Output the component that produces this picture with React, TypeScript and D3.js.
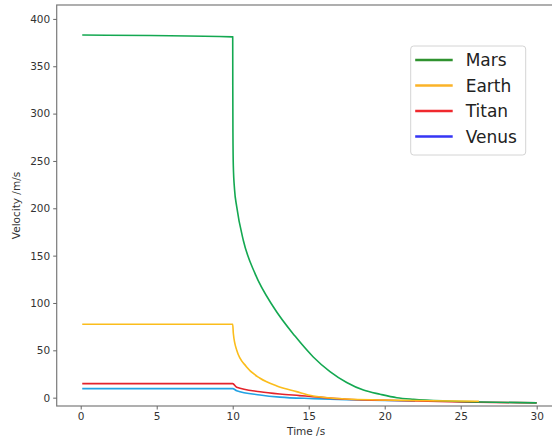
import { useEffect, useRef } from "react";
import * as d3 from "d3";

type Pt = [number, number];

// [time s, velocity m/s]
const marsData: Pt[] = [
  [0.1, 383], [10, 381], [10.005, 330], [10.015, 280], [10.04, 245], [10.12, 220],
  [10.26, 202], [10.7, 166], [11.47, 131], [12.67, 96], [14.1, 65], [15.3, 43],
  [16.4, 27.5], [17.5, 16], [18.6, 8], [19.7, 3.6], [20.8, 0], [21.9, -1.7],
  [24.1, -3.5], [26.3, -4.5], [30, -5.5],
];
const earthData: Pt[] = [
  [0.1, 77.5], [10, 77.5], [10.04, 68], [10.26, 50.4], [10.9, 32.7], [11.8, 20.5],
  [12.9, 12.4], [14.2, 6.4], [15.3, 1.8], [17.5, -1.4], [19.7, -2.4], [23, -3.2], [26.2, -3.8],
];
const titanData: Pt[] = [
  [0.1, 14.8], [10, 14.8], [10.26, 11], [11.8, 6.3], [13.1, 3.9], [14.4, 2.2],
  [15.3, 1], [17.5, -1.7], [20, -2.8], [25, -4.5], [30, -5.5],
];
const venusData: Pt[] = [
  [0.1, 9.5], [10, 9.5], [10.26, 7.4], [11.8, 2.9], [13.1, 0.6], [15.3, -1],
  [17.5, -2.2], [20, -3], [22, -3.5],
];

const xTicks = [0, 5, 10, 15, 20, 25, 30];
const yTicks = [0, 50, 100, 150, 200, 250, 300, 350, 400];

const series = [
  { name: "Venus", data: venusData, line: "#22a2e4" },
  { name: "Titan", data: titanData, line: "#e3232b" },
  { name: "Mars", data: marsData, line: "#14a851" },
  { name: "Earth", data: earthData, line: "#fbbd1c" },
];

const legendItems = [
  { name: "Mars", color: "#2f922f" },
  { name: "Earth", color: "#fbb328" },
  { name: "Titan", color: "#f0292e" },
  { name: "Venus", color: "#3535f5" },
];

const FONT = "DejaVu Sans, sans-serif";

export default function App() {
  const svgRef = useRef<SVGSVGElement>(null);

  useEffect(() => {
    if (!svgRef.current) return;
    const svg = d3.select(svgRef.current);
    svg.selectAll("*").remove();

    const left = 56.7;
    const right = 559.5;
    const top = 5;
    const bottom = 406;

    const x = d3.scaleLinear().domain([-1.58, 31.5]).range([left, right]);
    const y = d3.scaleLinear().domain([-8.8, 414.7]).range([bottom, top]);

    svg.append("rect").attr("width", 552).attr("height", 439).attr("fill", "#fff");

    // Lines
    const line = d3
      .line<Pt>()
      .x((d) => x(d[0]))
      .y((d) => y(d[1]))
      .curve(d3.curveMonotoneX);

    series.forEach((s) => {
      svg
        .append("path")
        .datum(s.data)
        .attr("fill", "none")
        .attr("stroke", s.line)
        .attr("stroke-width", 1.6)
        .attr("d", line);
    });

    // Frame
    svg
      .append("rect")
      .attr("x", left)
      .attr("y", top)
      .attr("width", right - left)
      .attr("height", bottom - top)
      .attr("fill", "none")
      .attr("stroke", "#7a7a7a")
      .attr("stroke-width", 1.2);

    // Axes
    const xAxis = svg
      .append("g")
      .attr("transform", `translate(0,${bottom})`)
      .call(d3.axisBottom(x).tickValues(xTicks).tickSize(3.5).tickPadding(3.5).tickSizeOuter(0));
    const yAxis = svg
      .append("g")
      .attr("transform", `translate(${left},0)`)
      .call(d3.axisLeft(y).tickValues(yTicks).tickSize(3.5).tickPadding(3).tickSizeOuter(0));

    [xAxis, yAxis].forEach((g) => {
      g.select(".domain").remove();
      g.selectAll("line").attr("stroke", "#666");
      g.selectAll("text")
        .attr("fill", "#333")
        .style("font-family", FONT)
        .style("font-size", "10.5px");
    });

    // Axis labels
    svg
      .append("text")
      .attr("x", (left + 559.5) / 2 - 2)
      .attr("y", 435)
      .attr("text-anchor", "middle")
      .attr("fill", "#333")
      .style("font-family", FONT)
      .style("font-size", "10.5px")
      .text("Time /s");

    svg
      .append("text")
      .attr("transform", `translate(20,${(top + bottom) / 2}) rotate(-90)`)
      .attr("text-anchor", "middle")
      .attr("fill", "#333")
      .style("font-family", FONT)
      .style("font-size", "10.5px")
      .text("Velocity /m/s");

    // Legend
    const legend = svg.append("g").attr("transform", "translate(410.7,46)");
    legend
      .append("rect")
      .attr("width", 115)
      .attr("height", 109)
      .attr("rx", 3)
      .attr("fill", "#fff")
      .attr("stroke", "#d4d4d4");

    legendItems.forEach((d, i) => {
      const cy = 14 + i * 25.5;
      legend
        .append("line")
        .attr("x1", 4.5)
        .attr("x2", 42)
        .attr("y1", cy)
        .attr("y2", cy)
        .attr("stroke", d.color)
        .attr("stroke-width", 2.6);
      legend
        .append("text")
        .attr("x", 55)
        .attr("y", cy + 6)
        .attr("fill", "#222")
        .style("font-family", FONT)
        .style("font-size", "17px")
        .text(d.name);
    });
  }, []);

  return (
    <svg
      ref={svgRef}
      width={552}
      height={439}
      style={{ position: "absolute", left: 0, top: 0 }}
    ></svg>
  );
}
